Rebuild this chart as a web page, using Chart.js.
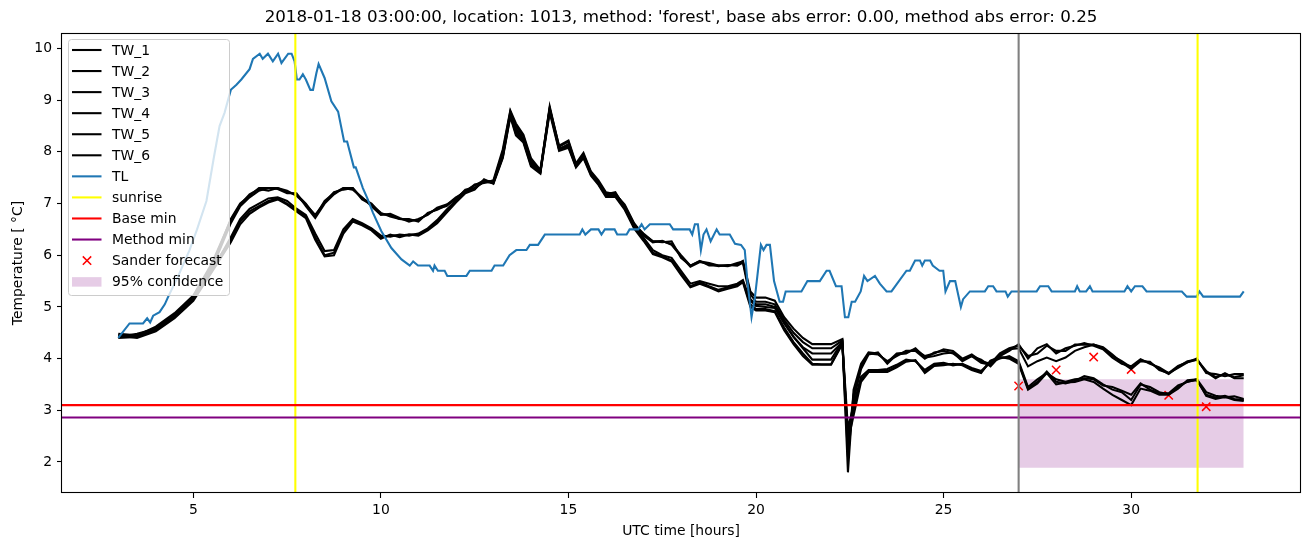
<!DOCTYPE html>
<html>
<head>
<meta charset="utf-8">
<script src="https://cdn.jsdelivr.net/npm/chart.js@4.4.1/dist/chart.umd.min.js"></script>
<style>
  html, body { margin: 0; padding: 0; background: #fff; }
  canvas { display: block; }
</style>
</head>
<body>
<canvas id="chart" width="1310" height="547"></canvas>
<script>
// water temperature sensors, sampled on a shared time grid (hours UTC)
const twHours = [
  3.0, 3.5, 4.0, 4.5, 5.0, 5.5, 6.0, 6.25, 6.5, 6.75,
  7.0, 7.25, 7.5, 7.75, 8.0, 8.25, 8.5, 8.75, 9.0, 9.25,
  9.5, 9.75, 10.0, 10.25, 10.5, 10.75, 11.0, 11.25, 11.5, 11.75,
  12.0, 12.25, 12.5, 12.75, 13.0, 13.25, 13.45, 13.6, 13.8, 14.0,
  14.25, 14.5, 14.75, 15.0, 15.2, 15.4, 15.6, 15.8, 16.0, 16.25,
  16.5, 16.75, 17.0, 17.25, 17.5, 17.75, 18.0, 18.25, 18.5, 18.75,
  19.0, 19.25, 19.5, 19.65, 19.85, 20.0, 20.25, 20.5, 20.75, 21.0,
  21.25, 21.5, 21.75, 22.0, 22.3, 22.45, 22.6, 22.8, 23.0, 23.25,
  23.5, 23.75, 24.0, 24.25, 24.5, 24.75, 25.0, 25.25, 25.5, 25.75,
  26.0, 26.25, 26.5, 26.75, 27.0, 27.25, 27.5, 27.75, 28.0, 28.25,
  28.5, 28.75, 29.0, 29.25, 29.5, 29.75, 30.0, 30.25, 30.5, 30.75,
  31.0, 31.25, 31.5, 31.75, 32.0, 32.25, 32.5, 32.75, 33.0
];
const tw1 = [
  4.45, 4.45, 4.6, 4.85, 5.2, 5.8, 6.7, 7.0, 7.15, 7.3,
  7.3, 7.3, 7.22, 7.18, 7.0, 6.75, 7.05, 7.2, 7.3, 7.3,
  7.1, 7.0, 6.8, 6.78, 6.7, 6.68, 6.68, 6.8, 6.9, 6.95,
  7.1, 7.25, 7.35, 7.45, 7.42, 8.0, 8.78, 8.5, 8.3, 7.85,
  7.62, 8.88, 8.1, 8.2, 7.75, 7.95, 7.6, 7.42, 7.2, 7.2,
  6.95, 6.6, 6.42, 6.27, 6.27, 6.22, 6.0, 5.8, 5.88, 5.85,
  5.8, 5.8, 5.82, 5.89, 5.3, 5.18, 5.18, 5.12, 4.8, 4.58,
  4.4, 4.28, 4.28, 4.28, 4.38, 1.8, 3.4, 3.9, 4.12, 4.1,
  3.93, 4.1, 4.12, 4.18, 4.05, 4.1, 4.18, 4.15, 4.0, 4.08,
  3.95, 3.9, 4.1, 4.2, 4.25, 4.05, 4.1, 4.25, 4.15, 4.15,
  4.27, 4.27, 4.27, 4.2, 4.05, 3.95, 3.83, 3.97, 3.92, 3.8,
  3.7, 3.84, 3.95, 3.98, 3.76, 3.64, 3.7, 3.64, 3.68
];
const tw2 = [
  4.42, 4.48, 4.58, 4.82, 5.15, 5.75, 6.62, 6.95, 7.12, 7.25,
  7.3, 7.28, 7.2, 7.2, 6.95, 6.72, 7.0, 7.18, 7.3, 7.27,
  7.12, 6.95, 6.78, 6.8, 6.72, 6.65, 6.7, 6.78, 6.92, 6.98,
  7.08, 7.27, 7.3, 7.42, 7.4, 7.95, 8.72, 8.45, 8.25, 7.8,
  7.6, 8.82, 8.05, 8.15, 7.72, 7.92, 7.58, 7.4, 7.18, 7.22,
  6.92, 6.58, 6.4, 6.27, 6.25, 6.27, 5.95, 5.8, 5.89, 5.8,
  5.8, 5.79, 5.85, 5.88, 5.25, 5.1, 5.1, 5.05, 4.75, 4.5,
  4.32, 4.2, 4.2, 4.2, 4.35, 2.3, 3.3, 3.85, 4.1, 4.08,
  3.95, 4.05, 4.15, 4.15, 4.0, 4.12, 4.15, 4.1, 3.98, 4.05,
  3.98, 3.85, 4.05, 4.15, 4.28, 4.0, 4.2, 4.28, 4.1, 4.2,
  4.25, 4.3, 4.25, 4.18, 4.02, 3.9, 3.85, 3.99, 3.9, 3.83,
  3.72, 3.86, 3.93, 4.0, 3.72, 3.7, 3.66, 3.7, 3.7
];
const tw3 = [
  4.48, 4.45, 4.62, 4.88, 5.22, 5.85, 6.68, 6.98, 7.18, 7.28,
  7.25, 7.3, 7.25, 7.15, 6.98, 6.78, 7.02, 7.22, 7.27, 7.3,
  7.08, 6.98, 6.82, 6.75, 6.7, 6.7, 6.65, 6.82, 6.88, 6.97,
  7.12, 7.22, 7.37, 7.4, 7.45, 8.05, 8.8, 8.55, 8.33, 7.88,
  7.65, 8.85, 8.12, 8.22, 7.78, 7.98, 7.62, 7.45, 7.22, 7.18,
  6.98, 6.62, 6.38, 6.25, 6.28, 6.2, 5.98, 5.78, 5.87, 5.83,
  5.79, 5.81, 5.8, 5.86, 5.15, 5.05, 5.05, 5.0, 4.7, 4.42,
  4.22, 4.1, 4.1, 4.1, 4.32, 2.1, 3.2, 3.8, 4.08, 4.12,
  3.9, 4.08, 4.1, 4.2, 4.02, 4.05, 4.1, 4.12, 3.95, 4.05,
  3.92, 3.88, 4.08, 4.18, 4.2, 3.85, 3.95, 4.02, 3.95, 4.02,
  4.15, 4.22, 4.27, 4.22, 4.08, 3.92, 3.8, 3.95, 3.94, 3.78,
  3.72, 3.82, 3.93, 3.98, 3.74, 3.62, 3.72, 3.62, 3.62
];
const tw4 = [
  4.4, 4.42, 4.55, 4.8, 5.15, 5.75, 6.3, 6.65, 6.85, 6.95,
  7.05, 7.1, 7.0, 6.88, 6.75, 6.35, 6.0, 6.05, 6.45, 6.68,
  6.6, 6.5, 6.35, 6.38, 6.38, 6.4, 6.4, 6.5, 6.65, 6.85,
  7.05, 7.25, 7.28, 7.45, 7.4, 7.9, 8.7, 8.35, 8.2, 7.75,
  7.6, 8.8, 8.05, 8.1, 7.72, 7.9, 7.56, 7.38, 7.15, 7.15,
  6.9, 6.55, 6.3, 6.05, 5.98, 5.9, 5.65, 5.4, 5.48, 5.4,
  5.33, 5.38, 5.42, 5.5, 5.05, 4.96, 4.96, 4.92, 4.6, 4.32,
  4.1, 3.9, 3.89, 3.89, 4.3, 2.5, 3.0, 3.6, 3.75, 3.76,
  3.76, 3.85, 3.96, 3.96, 3.75, 3.88, 3.89, 3.89, 3.89, 3.8,
  3.74, 3.95, 4.02, 4.02, 3.92, 3.42, 3.55, 3.75, 3.55, 3.52,
  3.57, 3.66, 3.62, 3.5, 3.4, 3.35, 3.2, 3.5, 3.45, 3.35,
  3.31, 3.45, 3.56, 3.58, 3.3, 3.25, 3.28, 3.22, 3.2
];
const tw5 = [
  4.42, 4.45, 4.57, 4.83, 5.18, 5.7, 6.35, 6.7, 6.9, 7.0,
  7.1, 7.12, 7.05, 6.9, 6.78, 6.42, 6.08, 6.1, 6.5, 6.7,
  6.62, 6.52, 6.38, 6.36, 6.4, 6.38, 6.42, 6.52, 6.68, 6.88,
  7.06, 7.22, 7.3, 7.43, 7.42, 7.92, 8.75, 8.4, 8.22, 7.78,
  7.62, 8.84, 8.07, 8.12, 7.74, 7.92, 7.58, 7.4, 7.17, 7.16,
  6.92, 6.57, 6.34, 6.1, 6.0, 5.95, 5.7, 5.45, 5.5, 5.45,
  5.4, 5.4, 5.45, 5.52, 5.12, 5.02, 5.0, 4.98, 4.68, 4.42,
  4.2, 3.98, 3.98, 3.98, 4.33, 2.65, 3.1, 3.65, 3.78, 3.78,
  3.8, 3.88, 3.98, 3.95, 3.78, 3.9, 3.92, 3.87, 3.9, 3.82,
  3.76, 3.93, 4.0, 4.05, 3.95, 3.45, 3.6, 3.72, 3.6, 3.55,
  3.6, 3.62, 3.6, 3.48, 3.45, 3.38, 3.3, 3.52, 3.4, 3.33,
  3.33, 3.48, 3.55, 3.6, 3.35, 3.28, 3.25, 3.27, 3.22
];
const tw6 = [
  4.45, 4.4, 4.53, 4.78, 5.12, 5.68, 6.25, 6.6, 6.8, 6.92,
  7.02, 7.08, 6.98, 6.85, 6.72, 6.3, 5.98, 6.0, 6.42, 6.65,
  6.58, 6.48, 6.32, 6.4, 6.35, 6.4, 6.38, 6.48, 6.62, 6.82,
  7.02, 7.2, 7.27, 7.47, 7.38, 7.88, 8.68, 8.32, 8.18, 7.72,
  7.58, 8.76, 8.02, 8.08, 7.7, 7.88, 7.54, 7.36, 7.13, 7.13,
  6.88, 6.52, 6.28, 6.02, 5.96, 5.88, 5.62, 5.38, 5.45, 5.38,
  5.3, 5.35, 5.4, 5.48, 5.0, 4.93, 4.93, 4.9, 4.55, 4.28,
  4.05, 3.88, 3.88, 3.88, 4.28, 2.4, 2.9, 3.55, 3.74, 3.74,
  3.74, 3.83, 3.94, 3.97, 3.72, 3.86, 3.87, 3.9, 3.87, 3.78,
  3.72, 3.96, 4.03, 4.0, 3.9, 3.4, 3.52, 3.72, 3.5, 3.54,
  3.55, 3.6, 3.55, 3.42, 3.3, 3.2, 3.1, 3.42, 3.38, 3.3,
  3.3, 3.42, 3.58, 3.6, 3.28, 3.22, 3.26, 3.2, 3.18
];
const twNames = ['TW_1', 'TW_2', 'TW_3', 'TW_4', 'TW_5', 'TW_6'];

// air temperature
const tlHours = [
  3.0, 3.3, 3.66, 3.77, 3.85, 3.93, 4.1, 4.24, 4.32, 4.6,
  4.9, 5.1, 5.35, 5.55, 5.7, 5.83, 6.0, 6.15, 6.28, 6.5,
  6.59, 6.77, 6.85, 6.99, 7.12, 7.26, 7.35, 7.53, 7.62, 7.7,
  7.76, 7.83, 7.92, 8.0, 8.12, 8.19, 8.28, 8.34, 8.5, 8.68,
  8.86, 9.02, 9.1, 9.28, 9.33, 9.52, 9.64, 9.79, 10.01, 10.28,
  10.55, 10.77, 10.86, 10.99, 11.3, 11.39, 11.43, 11.52, 11.7, 11.77,
  12.28, 12.37, 12.95, 13.03, 13.26, 13.43, 13.61, 13.88, 13.97, 14.19,
  14.37, 15.3, 15.37, 15.45, 15.6, 15.8, 15.88, 15.97, 16.23, 16.3,
  16.55, 16.63, 16.86, 16.95, 17.03, 17.17, 17.7, 17.79, 18.23, 18.3,
  18.37, 18.45, 18.53, 18.6, 18.68, 18.79, 18.95, 19.03, 19.3, 19.44,
  19.6, 19.7, 19.77, 19.88, 19.97, 20.13, 20.2, 20.28, 20.37, 20.48,
  20.63, 20.72, 20.79, 21.21, 21.37, 21.7, 21.88, 21.96, 22.13, 22.28,
  22.37, 22.46, 22.55, 22.64, 22.79, 22.88, 22.97, 23.17, 23.3, 23.48,
  23.61, 24.01, 24.1, 24.24, 24.37, 24.43, 24.5, 24.64, 24.71, 24.89,
  24.99, 25.05, 25.17, 25.31, 25.46, 25.52, 25.7, 26.1, 26.19, 26.32,
  26.41, 26.65, 26.71, 26.81, 27.48, 27.57, 27.79, 27.88, 28.5, 28.56,
  28.63, 28.8, 28.9, 28.97, 29.82, 29.9, 30.0, 30.1, 30.3, 30.41,
  31.35, 31.48, 31.75, 31.82, 31.92, 32.9, 33.0
];
const tlValues = [
  4.4, 4.68, 4.68, 4.78, 4.7, 4.83, 4.9, 5.05, 5.18, 5.6,
  6.1, 6.5, 7.05, 7.9, 8.5, 8.75, 9.2, 9.3, 9.4, 9.6,
  9.8, 9.9, 9.8, 9.9, 9.75, 9.9, 9.72, 9.9, 9.9, 9.75,
  9.4, 9.4, 9.5, 9.4, 9.2, 9.2, 9.52, 9.7, 9.43, 8.98,
  8.78, 8.2, 8.2, 7.7, 7.7, 7.3, 7.1, 6.82, 6.47, 6.14,
  5.92, 5.8, 5.88, 5.8, 5.8, 5.7, 5.8, 5.7, 5.7, 5.6,
  5.6, 5.7, 5.7, 5.8, 5.8, 6.0, 6.1, 6.1, 6.2, 6.2,
  6.4, 6.4, 6.5, 6.4, 6.5, 6.5, 6.4, 6.5, 6.5, 6.4,
  6.4, 6.5, 6.5, 6.6, 6.5, 6.6, 6.6, 6.5, 6.5, 6.4,
  6.6, 6.6, 6.1, 6.4, 6.5, 6.27, 6.5, 6.4, 6.4, 6.22,
  6.2, 6.1, 5.5, 4.8, 5.18, 6.2, 6.1, 6.2, 6.2, 5.5,
  5.1, 5.1, 5.3, 5.3, 5.5, 5.5, 5.7, 5.7, 5.4, 5.4,
  4.8, 4.8, 5.1, 5.1, 5.3, 5.6, 5.5, 5.6, 5.45, 5.3,
  5.3, 5.7, 5.7, 5.9, 5.9, 5.8, 5.9, 5.9, 5.8, 5.7,
  5.7, 5.3, 5.5, 5.5, 5.0, 5.15, 5.3, 5.3, 5.4, 5.4,
  5.3, 5.3, 5.2, 5.3, 5.3, 5.4, 5.4, 5.3, 5.3, 5.4,
  5.3, 5.3, 5.4, 5.3, 5.3, 5.4, 5.3, 5.4, 5.4, 5.3,
  5.3, 5.2, 5.2, 5.3, 5.2, 5.2, 5.3
];

const sunriseHours = [7.72, 31.77];
const forecastHour = 27.0;
const baseMin = 3.1;
const methodMin = 2.86;
const sanderHours = [27, 28, 29, 30, 31, 32];
const sanderValues = [3.47, 3.78, 4.03, 3.79, 3.29, 3.07];
const bandHours = [27, 33];
const bandLow = [1.89, 1.89];
const bandHigh = [3.6, 3.6];

const xTicks = [5, 10, 15, 20, 25, 30];
const yTicks = [2, 3, 4, 5, 6, 7, 8, 9, 10];
const xMin = 1.5, xMax = 34.5, yMin = 1.4, yMax = 10.3;

const titleText = "2018-01-18 03:00:00, location: 1013, method: 'forest', base abs error: 0.00, method abs error: 0.25";
const xTitle = 'UTC time [hours]';
const yTitle = 'Temperature [ \u00b0C]';

const blue = '#1f77b4';
const yellow = '#ffff00';
const red = '#ff0000';
const purple = '#800080';
const bandColor = 'rgba(128, 0, 128, 0.2)';
const FONT = 'DejaVu Sans';
const LW = 2.08;

const pts = (xs, ys) => xs.map((x, i) => ({ x: x, y: ys[i] }));
const vLines = hs => hs.flatMap(h => [{ x: h, y: yMin }, { x: h, y: yMax }, { x: h, y: null }]);
const hLine = v => [{ x: xMin, y: v }, { x: xMax, y: v }];

function lineSet(label, data, color, order) {
  return {
    label: label, data: data, borderColor: color, backgroundColor: color,
    borderWidth: LW, pointRadius: 0, tension: 0, fill: false, spanGaps: false, order: order
  };
}

const twSeries = [tw1, tw2, tw3, tw4, tw5, tw6];
const datasets = twSeries.map((s, i) => lineSet(twNames[i], pts(twHours, s), '#000000', 5));
datasets.push(lineSet('TL', pts(tlHours, tlValues), blue, 4));
datasets.push(lineSet('sunrise', vLines(sunriseHours), yellow, 3));
datasets.push(lineSet('Base min', hLine(baseMin), red, 2));
datasets.push(lineSet('Method min', hLine(methodMin), purple, 2));
datasets.push(lineSet('forecast start', vLines([forecastHour]), '#808080', 1));
datasets.push({
  label: 'Sander forecast', data: pts(sanderHours, sanderValues), showLine: false,
  pointStyle: 'crossRot', pointRadius: 5.9, borderColor: red, backgroundColor: red,
  pointBorderWidth: 1.5, order: 6
});
datasets.push({
  label: '95% confidence', data: pts(bandHours, bandHigh), borderWidth: 0, pointRadius: 0,
  backgroundColor: bandColor, fill: '+1', order: 8
});
datasets.push({
  label: 'band low', data: pts(bandHours, bandLow), borderWidth: 0, pointRadius: 0,
  fill: false, order: 9
});

const legendItems = [
  ...twNames.map(n => ({ label: n, kind: 'line', color: '#000000' })),
  { label: 'TL', kind: 'line', color: blue },
  { label: 'sunrise', kind: 'line', color: yellow },
  { label: 'Base min', kind: 'line', color: red },
  { label: 'Method min', kind: 'line', color: purple },
  { label: 'Sander forecast', kind: 'cross', color: red },
  { label: '95% confidence', kind: 'patch', color: bandColor }
];

// frame, title, axis labels and a matplotlib style legend
const decor = {
  id: 'decor',
  afterDraw(chart) {
    const c = chart.ctx, a = chart.chartArea;
    c.save();
    c.strokeStyle = '#000';
    c.lineWidth = 1.1;
    c.strokeRect(Math.round(a.left) - 0.5, Math.round(a.top) + 0.5,
      Math.round(a.right - a.left) + 1, Math.round(a.bottom - a.top) - 1);

    c.fillStyle = '#000';
    c.textAlign = 'center';
    c.textBaseline = 'alphabetic';
    c.font = '16.7px "' + FONT + '"';
    c.fillText(titleText, (a.left + a.right) / 2, 22);
    c.font = '13.9px "' + FONT + '"';
    c.fillText(xTitle, (a.left + a.right) / 2, 535);
    c.save();
    c.translate(22, (a.top + a.bottom) / 2);
    c.rotate(-Math.PI / 2);
    c.fillText(yTitle, 0, 0);
    c.restore();

    // legend
    const bx = 68, by = 39, bw = 161, bh = 256;
    c.beginPath();
    c.roundRect(bx + 0.5, by + 0.5, bw, bh, 3);
    c.fillStyle = 'rgba(255,255,255,0.8)';
    c.fill();
    c.strokeStyle = '#cccccc';
    c.lineWidth = 1;
    c.stroke();
    c.textAlign = 'left';
    c.textBaseline = 'middle';
    legendItems.forEach((it, i) => {
      const y = 50 + i * 21.06;
      if (it.kind === 'line') {
        c.strokeStyle = it.color;
        c.lineWidth = LW;
        c.beginPath();
        c.moveTo(72, y);
        c.lineTo(101.5, y);
        c.stroke();
      } else if (it.kind === 'cross') {
        c.strokeStyle = it.color;
        c.lineWidth = 1.5;
        c.beginPath();
        c.moveTo(82.8, y - 4.2); c.lineTo(91.2, y + 4.2);
        c.moveTo(82.8, y + 4.2); c.lineTo(91.2, y - 4.2);
        c.stroke();
      } else {
        c.fillStyle = it.color;
        c.fillRect(72, y - 4.5, 29.5, 9.5);
      }
      c.fillStyle = '#000';
      c.fillText(it.label, 112, y + 1);
    });
    c.restore();
  }
};

const tickFont = { family: FONT, size: 13.9 };

new Chart(document.getElementById('chart'), {
  type: 'line',
  data: { datasets: datasets },
  plugins: [decor],
  options: {
    responsive: false,
    animation: false,
    events: [],
    layout: { padding: { left: 0, right: 10, top: 33, bottom: 0 } },
    plugins: { legend: { display: false }, tooltip: { enabled: false }, title: { display: false } },
    scales: {
      x: {
        type: 'linear', min: xMin, max: xMax,
        afterBuildTicks: s => { s.ticks = xTicks.map(v => ({ value: v })); },
        afterFit: s => { s.height = 54; },
        grid: { display: true, drawOnChartArea: false, drawTicks: true, tickLength: 5, color: '#000', tickWidth: 1.1 },
        border: { display: false },
        ticks: { color: '#000', font: tickFont, padding: 4, maxRotation: 0, autoSkip: false }
      },
      y: {
        type: 'linear', min: yMin, max: yMax,
        afterBuildTicks: s => { s.ticks = yTicks.map(v => ({ value: v })); },
        afterFit: s => { s.width = 62; },
        grid: { display: true, drawOnChartArea: false, drawTicks: true, tickLength: 5, color: '#000', tickWidth: 1.1 },
        border: { display: false },
        ticks: { color: '#000', font: tickFont, padding: 5, autoSkip: false }
      }
    }
  }
});
</script>
</body>
</html>
